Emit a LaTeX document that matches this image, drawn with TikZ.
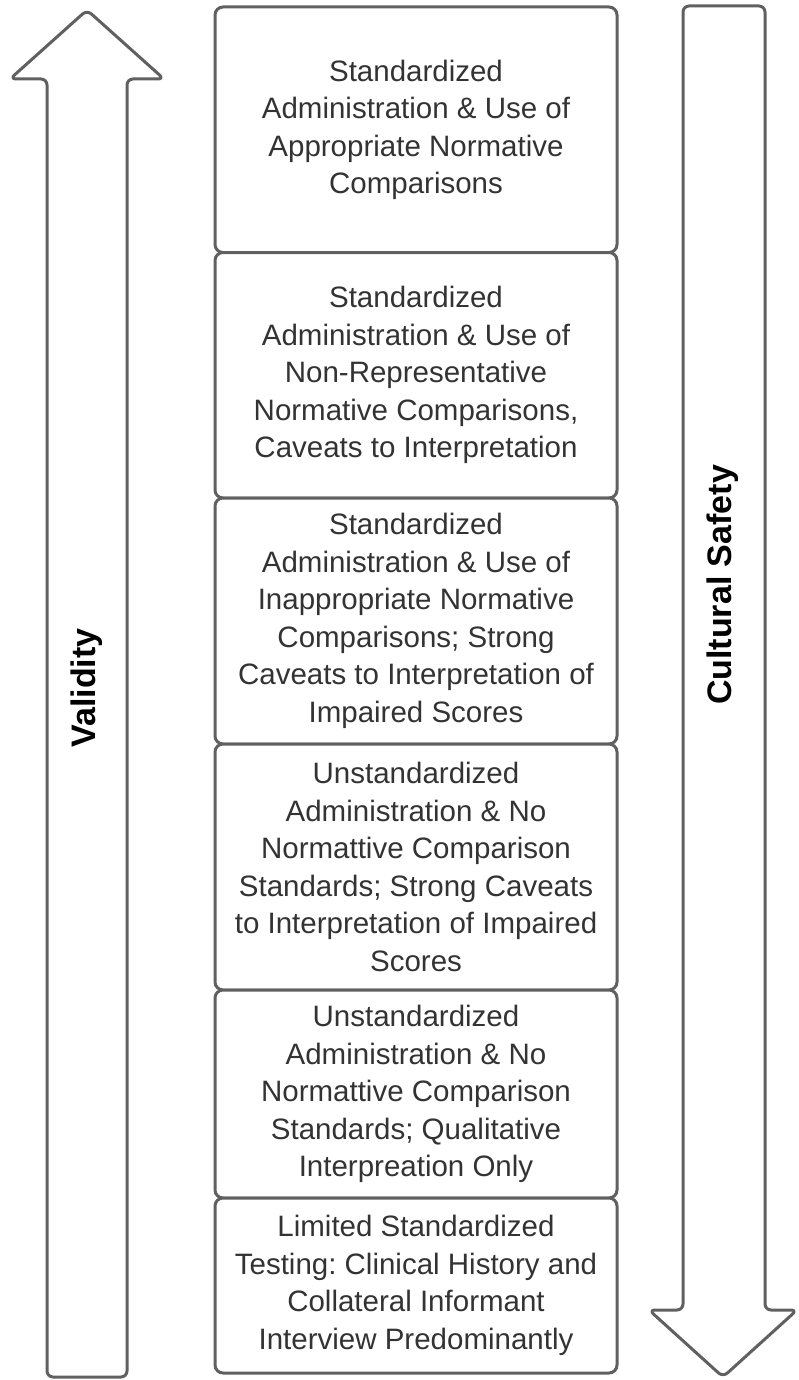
\documentclass[tikz,border=0pt]{standalone}
\usepackage{fontspec}
\setmainfont{Liberation Sans}
\frenchspacing
\definecolor{edge}{HTML}{606060}
\definecolor{ink}{HTML}{333333}
\tikzset{
  tier/.style={draw=edge, line width=3pt, rounded corners=8pt, fill=white,
    minimum width=402pt, inner sep=0pt, align=center, text=ink,
    font=\fontsize{29.5}{37.5}\selectfont},
  bigarrow/.style={draw=edge, line width=3pt, rounded corners=6pt, fill=white, line join=round},
  axislabel/.style={rotate=90, font=\fontsize{34}{38}\selectfont\bfseries, text=black, inner sep=0pt}
}
\begin{document}
\begin{tikzpicture}[x=1pt,y=-1pt]
\useasboundingbox (0,0) rectangle (799,1380);
% arrows
\draw[bigarrow] (47,1377) -- (47,79) -- (10,79) -- (87,10) -- (164,79) -- (127,79) -- (127,1377) -- cycle;
\draw[bigarrow] (683,6) -- (765,6) -- (765,1310) -- (797,1310) -- (723,1377) -- (649,1310) -- (683,1310) -- cycle;
\node[axislabel] (validity) at (87,688) {Validity};
\node[axislabel] (safety) at (723,585) {Cultural Safety};
% tiers
\node[tier, minimum height=245.5pt] (t1) at (416,129.75) {Standardized\\Administration \& Use of\\Appropriate Normative\\Comparisons};
\node[tier, minimum height=245.5pt] (t2) at (416,375.25) {Standardized\\Administration \& Use of\\Non-Representative\\Normative Comparisons,\\Caveats to Interpretation};
\node[tier, minimum height=246pt] (t3) at (416,621) {Standardized\\Administration \& Use of\\Inappropriate Normative\\Comparisons; Strong\\Caveats to Interpretation of\\Impaired Scores};
\node[tier, minimum height=246pt] (t4) at (416,867) {Unstandardized\\Administration \& No\\Normattive Comparison\\Standards; Strong Caveats\\to Interpretation of Impaired\\Scores};
\node[tier, minimum height=208pt] (t5) at (416,1094) {Unstandardized\\Administration \& No\\Normattive Comparison\\Standards; Qualitative\\Interpreation Only};
\node[tier, minimum height=175pt] (t6) at (416,1285.5) {Limited Standardized\\Testing: Clinical History and\\Collateral Informant\\Interview Predominantly};
\end{tikzpicture}
\end{document}
